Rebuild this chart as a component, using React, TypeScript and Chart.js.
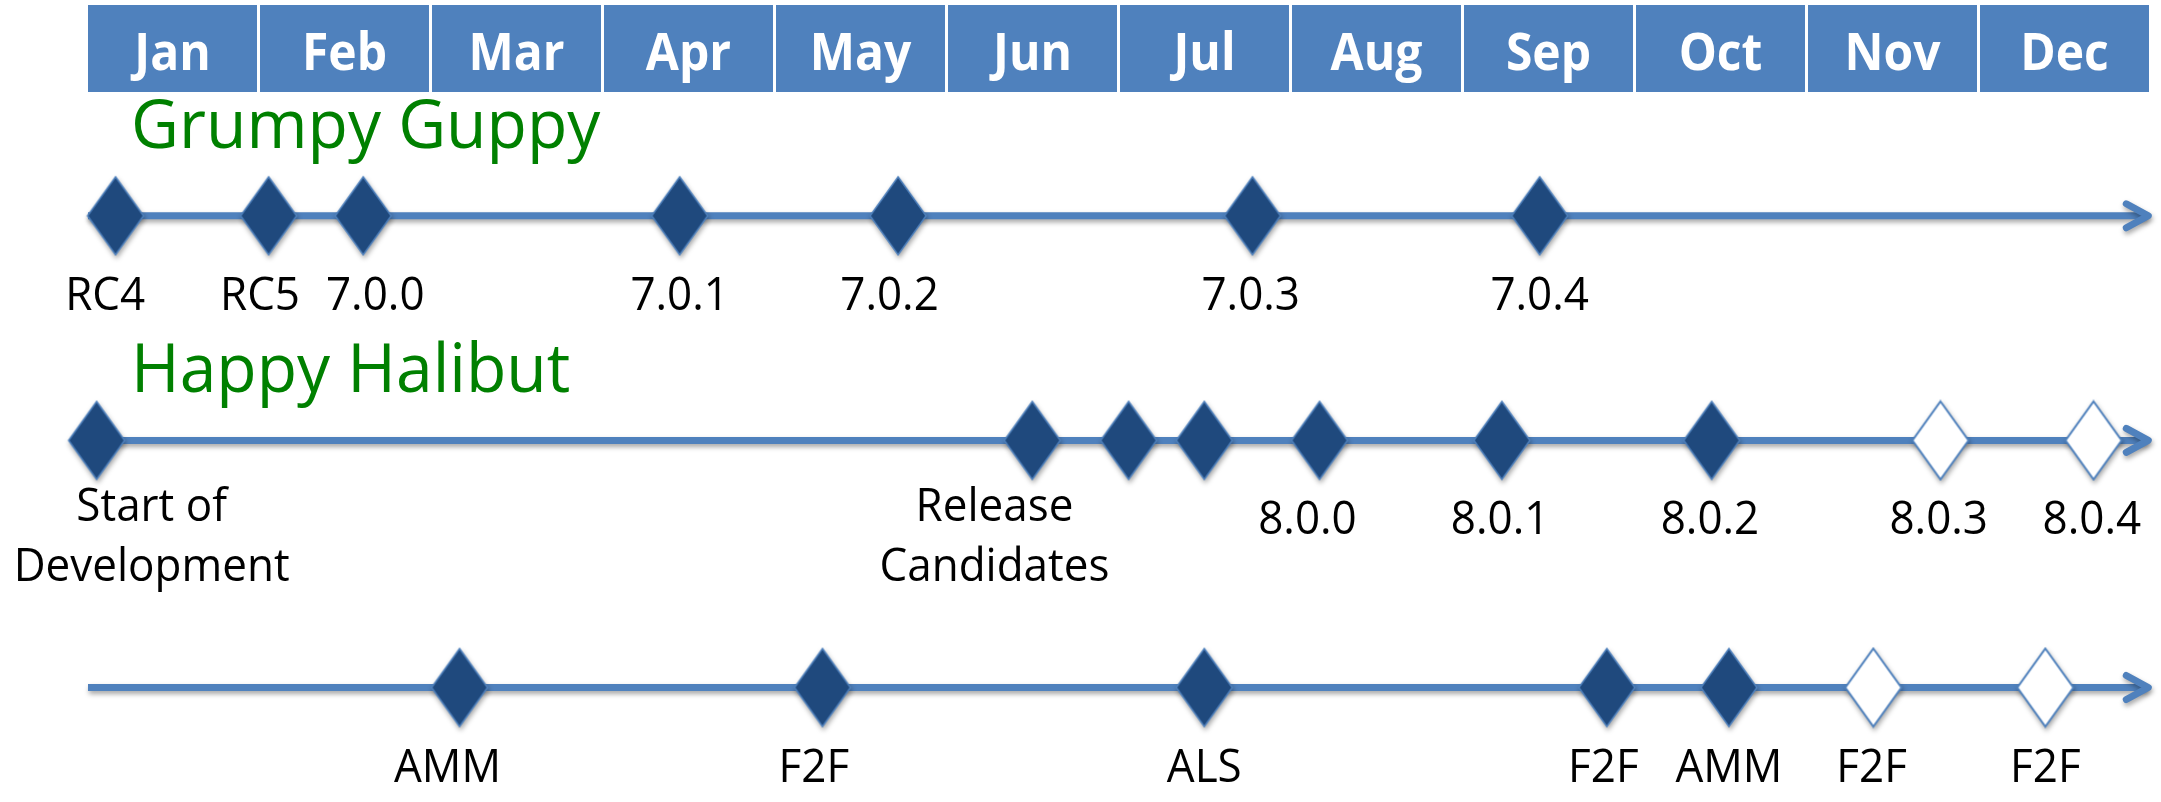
import React, { useEffect, useRef } from 'react';
import { Chart, registerables } from 'chart.js';

Chart.register(...registerables);

// ---------- data ----------
const months = ['Jan', 'Feb', 'Mar', 'Apr', 'May', 'Jun', 'Jul', 'Aug', 'Sep', 'Oct', 'Nov', 'Dec'];

// lane (row) values on the y scale
const laneRows = [1, 2, 3.1];
const laneTitles = ['Grumpy Guppy', 'Happy Halibut', ''];
const lineStart = 0;
const lineEnd = 11.99;

// Grumpy Guppy (dates are in months from the start of Jan)
const guppyDates = [0.16, 1.05, 1.6, 3.44, 4.71, 6.77, 8.44];
const guppyPlanned = [false, false, false, false, false, false, false];
const guppyLabels = ['RC4', 'RC5', '7.0.0', '7.0.1', '7.0.2', '7.0.3', '7.0.4'];
const guppyLabelAt = [0.1, 1.0, 1.67, 3.44, 4.66, 6.76, 8.44];

// Happy Halibut
const halibutDates = [0.05, 5.49, 6.05, 6.49, 7.16, 8.22, 9.44, 10.77, 11.66];
const halibutPlanned = [false, false, false, false, false, false, false, true, true];
const halibutLabels = ['Start of\nDevelopment', 'Release\nCandidates', '8.0.0', '8.0.1', '8.0.2', '8.0.3', '8.0.4'];
const halibutLabelAt = [0.37, 5.27, 7.09, 8.21, 9.43, 10.76, 11.65];

// Events
const eventDates = [2.16, 4.27, 6.49, 8.83, 9.54, 10.38, 11.38];
const eventPlanned = [false, false, false, false, false, true, true];
const eventLabels = ['AMM', 'F2F', 'ALS', 'F2F', 'AMM', 'F2F', 'F2F'];
const eventLabelAt = [2.09, 4.22, 6.49, 8.81, 9.54, 10.37, 11.38];

const lanes = [
  { dates: guppyDates, planned: guppyPlanned, labels: guppyLabels, labelAt: guppyLabelAt },
  { dates: halibutDates, planned: halibutPlanned, labels: halibutLabels, labelAt: halibutLabelAt },
  { dates: eventDates, planned: eventPlanned, labels: eventLabels, labelAt: eventLabelAt },
];

// ---------- styles ----------
const BLUE = '#4F81BD';
const DARK = '#1F497D';
const FONT = '"Open Sans", "DejaVu Sans", sans-serif';

function makeDiamond(fill: string, stroke: string, lw: number): HTMLCanvasElement {
  const c = document.createElement('canvas');
  c.width = 60;
  c.height = 82;
  const g = c.getContext('2d')!;
  g.beginPath();
  g.moveTo(30, 2);
  g.lineTo(58, 41);
  g.lineTo(30, 80);
  g.lineTo(2, 41);
  g.closePath();
  g.fillStyle = fill;
  g.fill();
  g.lineWidth = lw;
  g.strokeStyle = stroke;
  g.stroke();
  return c;
}

function stretchedText(ctx: CanvasRenderingContext2D, text: string, x: number, y: number, sy: number) {
  ctx.save();
  ctx.translate(x, y);
  ctx.scale(1, sy);
  ctx.fillText(text, 0, 0);
  ctx.restore();
}

export default function App() {
  const ref = useRef<HTMLCanvasElement | null>(null);

  useEffect(() => {
    document.body.style.margin = '0';
    const canvas = ref.current!;
    const filled = makeDiamond(DARK, BLUE, 1.5);
    const hollow = makeDiamond('#FFFFFF', BLUE, 2);

    const datasets: any[] = [];
    lanes.forEach((lane, li) => {
      datasets.push({
        label: 'milestones' + li,
        data: lane.dates.map((d) => ({ x: d, y: laneRows[li] })),
        showLine: false,
        pointStyle: (c: any) => (lane.planned[c.dataIndex] ? hollow : filled),
        pointRadius: 5,
        clip: false,
        order: 0,
      });
    });
    lanes.forEach((_lane, li) => {
      datasets.push({
        label: 'line' + li,
        data: [
          { x: lineStart, y: laneRows[li] },
          { x: lineEnd - 0.02, y: laneRows[li] },
        ],
        showLine: true,
        borderColor: BLUE,
        borderWidth: 7,
        borderCapStyle: 'butt',
        pointRadius: 0,
        clip: false,
        order: 1,
      });
    });

    const decor = {
      id: 'decor',
      beforeDatasetsDraw(chart: any) {
        const ctx = chart.ctx;
        ctx.save();
        ctx.shadowColor = 'rgba(0,0,0,0.35)';
        ctx.shadowBlur = 5;
        ctx.shadowOffsetX = 1;
        ctx.shadowOffsetY = 3;
      },
      afterDatasetsDraw(chart: any) {
        const ctx = chart.ctx;
        const xs = chart.scales.x;
        const ys = chart.scales.y;
        // arrow heads (still shadowed)
        laneRows.forEach((r) => {
          const tx = xs.getPixelForValue(lineEnd);
          const ty = ys.getPixelForValue(r);
          ctx.beginPath();
          ctx.moveTo(tx - 24, ty - 12);
          ctx.lineTo(tx - 2, ty);
          ctx.lineTo(tx - 24, ty + 12);
          ctx.strokeStyle = BLUE;
          ctx.lineWidth = 7;
          ctx.lineCap = 'round';
          ctx.lineJoin = 'round';
          ctx.stroke();
        });
        ctx.restore();

        ctx.save();
        // header month boxes
        months.forEach((m, i) => {
          const x0 = xs.getPixelForValue(i);
          const x1 = xs.getPixelForValue(i + 1) - 3;
          ctx.fillStyle = BLUE;
          ctx.fillRect(x0, 5, x1 - x0, 87);
          ctx.fillStyle = '#FFFFFF';
          ctx.font = 'bold 48px ' + FONT;
          ctx.textAlign = 'center';
          ctx.textBaseline = 'alphabetic';
          stretchedText(ctx, m, (x0 + x1) / 2, 70, 1.08);
        });

        // lane titles
        const titleBase = [148, 392];
        laneTitles.forEach((t, i) => {
          if (!t) return;
          ctx.fillStyle = '#008000';
          ctx.font = '66px ' + FONT;
          ctx.textAlign = 'left';
          ctx.textBaseline = 'alphabetic';
          stretchedText(ctx, t, 131, titleBase[i], 1.03);
        });

        // milestone labels
        ctx.fillStyle = '#000000';
        ctx.font = '44px ' + FONT;
        ctx.textAlign = 'center';
        ctx.textBaseline = 'alphabetic';
        lanes.forEach((lane, li) => {
          const ly = ys.getPixelForValue(laneRows[li]);
          lane.labels.forEach((lab, k) => {
            const lx = xs.getPixelForValue(lane.labelAt[k]);
            const parts = lab.split('\n');
            if (parts.length === 1) {
              stretchedText(ctx, lab, lx, ly + 94, 1.03);
            } else {
              parts.forEach((p, j) => stretchedText(ctx, p, lx, ly + 81 + 60 * j, 1.03));
            }
          });
        });
        ctx.restore();
      },
    };

    const chart = new Chart(canvas, {
      type: 'scatter',
      data: { datasets },
      options: {
        responsive: false,
        animation: false,
        devicePixelRatio: 1,
        events: [],
        layout: { padding: { left: 88, right: 9, top: 0, bottom: 0 } },
        plugins: { legend: { display: false }, tooltip: { enabled: false } },
        scales: {
          x: { type: 'linear', min: 0, max: 12, display: false },
          y: { type: 'linear', min: 0.066, max: 3.583, reverse: true, display: false },
        },
      },
      plugins: [decor],
    } as any);

    let alive = true;
    if ((document as any).fonts && (document as any).fonts.load) {
      Promise.all([
        (document as any).fonts.load('44px "Open Sans"'),
        (document as any).fonts.load('bold 48px "Open Sans"'),
      ]).then(() => {
        if (alive) chart.update();
      }).catch(() => {});
    }

    return () => {
      alive = false;
      chart.destroy();
    };
  }, []);

  return (
    <div style={{ position: 'absolute', left: 0, top: 0, width: 2161, height: 802, background: '#FFFFFF' }}>
      <canvas ref={ref} width={2161} height={802} style={{ display: 'block' }} />
    </div>
  );
}
